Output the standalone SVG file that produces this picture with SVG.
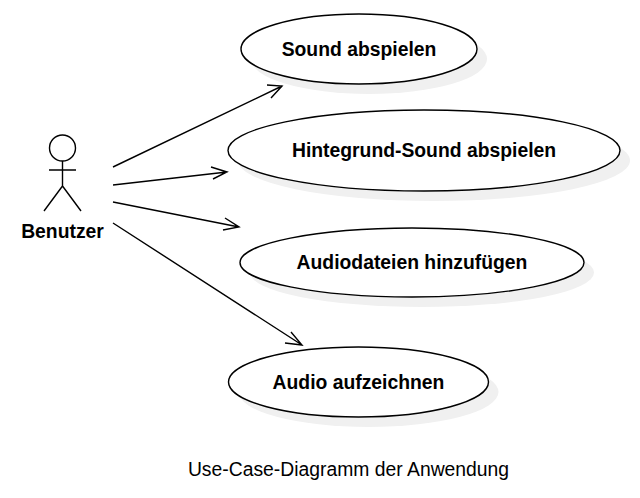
<svg xmlns="http://www.w3.org/2000/svg" width="640" height="498" viewBox="0 0 640 498">
<style>
.u{fill:#fff;stroke:#000;stroke-width:1.4}
.s{fill:#f0f0f0}
.l{font-family:"Liberation Sans",Arial,sans-serif;font-size:19.330px;font-weight:bold;fill:#000;text-anchor:middle}
.c{font-family:"Liberation Sans",Arial,sans-serif;font-size:19.330px;fill:#000;text-anchor:middle}
.a{fill:none;stroke:#000;stroke-width:1.4}
</style>
<rect width="640" height="498" fill="#fff"/>
<g id="n1"><ellipse class="s" cx="369" cy="59" rx="118" ry="35"/><ellipse class="u" cx="359" cy="49" rx="118" ry="35"/><text class="l" x="359" y="56">Sound abspielen</text></g>
<g id="n2"><ellipse class="s" cx="434" cy="160.500" rx="196" ry="40.500"/><ellipse class="u" cx="424" cy="150.500" rx="196" ry="40.500"/><text class="l" x="424" y="156.500">Hintegrund-Sound abspielen</text></g>
<g id="n3"><ellipse class="s" cx="422" cy="272.500" rx="172" ry="34.500"/><ellipse class="u" cx="412" cy="262.500" rx="172" ry="34.500"/><text class="l" x="412" y="268.500">Audiodateien hinzufügen</text></g>
<g id="n4"><ellipse class="s" cx="368.500" cy="392" rx="130" ry="35"/><ellipse class="u" cx="358.500" cy="382" rx="130" ry="35"/><text class="l" x="358.500" y="388.500">Audio aufzeichnen</text></g>
<g id="actor"><circle class="a" cx="62.500" cy="148" r="13"/><path class="a" d="M62.500 161V186M49 170H76M62.500 186L44 211M62.500 186L81 211"/><text class="l" x="62.500" y="238">Benutzer</text></g>
<g id="connectors">
<path class="a" d="M113 167L282 86M267 85L282 86L271 98"/>
<path class="a" d="M113 185L227 172M211 167L227 172L213 179"/>
<path class="a" d="M113 202L239 227M225 218L239 227L223 230"/>
<path class="a" d="M113 223L302 345M291 332L302 345L285 343"/>
</g>
<text id="caption" class="c" x="348.500" y="476">Use-Case-Diagramm der Anwendung</text>
</svg>
